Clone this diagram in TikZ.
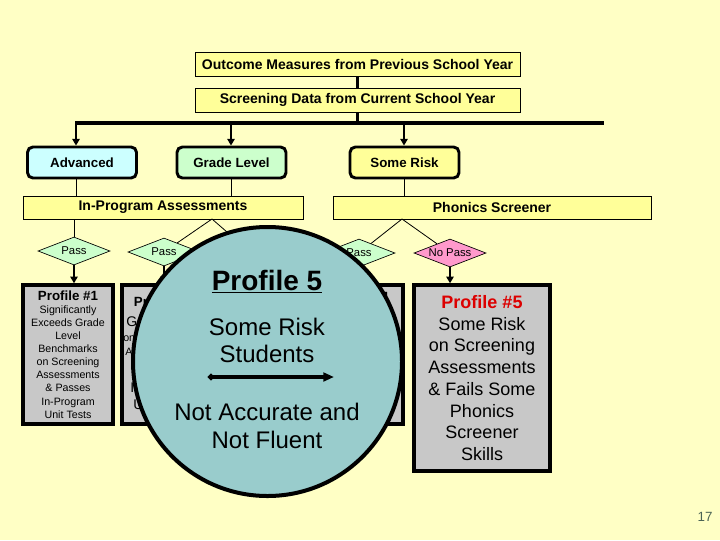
\documentclass[tikz,border=0pt]{standalone}
\usepackage{fontspec}
\setmainfont{Liberation Sans}
\usetikzlibrary{shapes.geometric,arrows.meta}
\definecolor{bg}{RGB}{255,255,197}
\definecolor{byel}{RGB}{255,255,153}
\definecolor{bcyan}{RGB}{204,255,255}
\definecolor{bgreen}{RGB}{204,255,204}
\definecolor{bpink}{RGB}{255,153,204}
\definecolor{pgray}{RGB}{200,200,200}
\definecolor{teal5}{RGB}{153,204,204}
\definecolor{red5}{RGB}{220,0,0}
\definecolor{pnum}{RGB}{75,100,85}
\begin{document}
\begin{tikzpicture}[x=0.75pt,y=-0.75pt,
  topbox/.style={draw, line width=0.6pt, fill=byel, inner sep=0, minimum width=243.75pt, minimum height=18pt, font=\bfseries\fontsize{10.5}{12}\selectfont},
  lvlbox/.style={draw, line width=2.2pt, rounded corners=4pt, inner sep=0, minimum width=81.75pt, minimum height=23.25pt, font=\bfseries\fontsize{10}{12}\selectfont},
  midbox/.style={draw, line width=0.6pt, fill=byel, inner sep=0, minimum height=17.25pt, font=\bfseries\fontsize{10.5}{12}\selectfont},
  diam/.style={diamond, aspect=2.57, draw, line width=0.5pt, inner sep=0, minimum width=54pt, minimum height=21pt, font=\fontsize{8.5}{10}\selectfont},
  pbox/.style={draw, line width=2.6pt, fill=pgray, inner sep=0},
  arr/.style={line width=1.6pt, -{Triangle[length=5pt,width=5.5pt]}},
  thinln/.style={line width=0.6pt},
  bar/.style={line width=2.4pt},
  ctext/.style={anchor=base, inner sep=0, font=\fontsize{18}{21}\selectfont},
  hid/.style={anchor=base west, inner sep=0}
]
\fill[bg] (0,0) rectangle (720,540);
\useasboundingbox (0,0) rectangle (720,540);

% top boxes
\node[topbox] (out) at (357.5,64) {Outcome Measures from Previous School Year};
\node[topbox] (scr) at (357.5,100) {Screening Data from Current School Year};
\draw[bar] (out.south) -- (scr.north);
\coordinate (hm) at (357.5,123);
\coordinate (hl) at (75,123);
\coordinate (hr) at (604,123);
\draw[bar] (scr.south) -- (hm);
\draw[bar] (hl) -- (hr);

% level boxes
\node[lvlbox, fill=bcyan] (adv) at (82,162.5) {Advanced};
\node[lvlbox, fill=bgreen] (grd) at (231.5,162.5) {Grade Level};
\node[lvlbox, fill=byel] (srk) at (404.5,162.5) {Some Risk};
\coordinate (a1) at (76,123);
\coordinate (a2) at (231,123);
\coordinate (a3) at (404,123);
\draw[arr] (a1) -- (a1 |- adv.north);
\draw[arr] (a2) -- (a2 |- grd.north);
\draw[arr] (a3) -- (a3 |- srk.north);

% assessment boxes
\node[midbox, minimum width=210pt] (ipa) at (163,207.5) {In-Program Assessments};
\node[midbox, minimum width=238.5pt] (phs) at (492,207.5) {Phonics Screener};
\draw[thinln] (a1 |- adv.south) -- (a1 |- ipa.north);
\draw[thinln] (a2 |- grd.south) -- (a2 |- ipa.north);
\draw[thinln] (a3 |- srk.south) -- (a3 |- phs.north);

% diamonds
\node[diam, fill=bgreen] (d1) at (74,251) {Pass};
\node[diam, fill=bgreen] (d2) at (164,252) {Pass};
\node[diam, fill=bgreen] (d4) at (359,253) {Pass};
\node[diam, fill=bpink] (d5) at (450,253) {No Pass};
\coordinate (f1) at (212,219);
\coordinate (f2) at (402,219);
\coordinate (d3) at (250,252);
\draw[thinln] (d1.north |- ipa.south) -- (d1.north);
\draw[thinln] (f1) -- (d2);
\draw[thinln] (f1) -- (d3);
\draw[thinln] (f2) -- (d4);
\draw[thinln] (f2) -- (d5);

% profile boxes
\node[pbox, minimum width=67.5pt, minimum height=104.25pt, align=center, font=\fontsize{8}{9.8}\selectfont] (p1) at (68,354.5)
  {{\bfseries\fontsize{10}{12}\selectfont Profile \#1}\\Significantly\\Exceeds Grade\\Level\\Benchmarks\\on Screening\\Assessments\\\& Passes\\In-Program\\Unit Tests};
\node[pbox, minimum width=66.75pt, minimum height=104.25pt] (p2) at (166.5,354.5) {};
\node[pbox, minimum width=66.75pt, minimum height=104.25pt] (p4) at (358.5,354.5) {};
\node[pbox, minimum width=102pt, minimum height=139.5pt, align=center, font=\fontsize{13.5}{16.3}\selectfont] (p5) at (482,378)
  {{\bfseries\color{red5}Profile \#5}\\Some Risk\\on Screening\\Assessments\\\& Fails Some\\Phonics\\Screener\\Skills};
\draw[arr] (d1.south) -- (d1.south |- p1.north);
\draw[arr] (d2.south) -- (d2.south |- p2.north);
\draw[arr] (d4.south) -- (d4.south |- p4.north);
\draw[arr] (d5.south) -- (d5.south |- p5.north);

% partly hidden texts of profiles 2 and 4
\node[anchor=base, inner sep=0, font=\bfseries\fontsize{10}{12}\selectfont] (p2t) at (164,306) {Profile \#2};
\node[hid, font=\fontsize{10.5}{12}\selectfont] (p2a) at (126,326) {Grade Level};
\node[hid, font=\fontsize{8}{10}\selectfont] (p2b) at (123,341) {on Screening};
\node[hid, font=\fontsize{8}{10}\selectfont] (p2c) at (125,355) {Assessments};
\node[anchor=base, inner sep=0, font=\fontsize{8}{10}\selectfont] (p2d) at (166,373) {\& Passes};
\node[hid, font=\fontsize{10.5}{12}\selectfont] (p2e) at (130,392) {In-Program};
\node[hid, font=\fontsize{10.5}{12}\selectfont] (p2f) at (133,409) {Unit Tests};
\node[anchor=base, inner sep=0, font=\bfseries\fontsize{10}{12}\selectfont] (p4t) at (358.5,301) {Profile \#4};

% profile 5 circle
\node[circle, draw, line width=3pt, fill=teal5, minimum size=201.75pt, inner sep=0] (c5) at (267.5,361.5) {};
\node[anchor=base, inner sep=0, font=\bfseries\fontsize{21}{25}\selectfont] (c5t) at (267,290) {\underline{Profile 5}};
\node[ctext] (c5a) at (267,335.5) {Some Risk};
\node[ctext] (c5b) at (267,362.5) {Students};
\coordinate (aL) at (208,377);
\coordinate (aR) at (334,377);
\draw[line width=2.4pt, {Circle[length=4.5pt]}-{Triangle[length=8pt,width=6.5pt]}] (aL) -- (aR);
\node[ctext] (c5c) at (267,420.5) {Not Accurate and};
\node[ctext] (c5d) at (267,448.5) {Not Fluent};

\node[anchor=base, inner sep=0, text=pnum, font=\fontsize{10}{12}\selectfont] (pg) at (705,521) {17};
\end{tikzpicture}
\end{document}
